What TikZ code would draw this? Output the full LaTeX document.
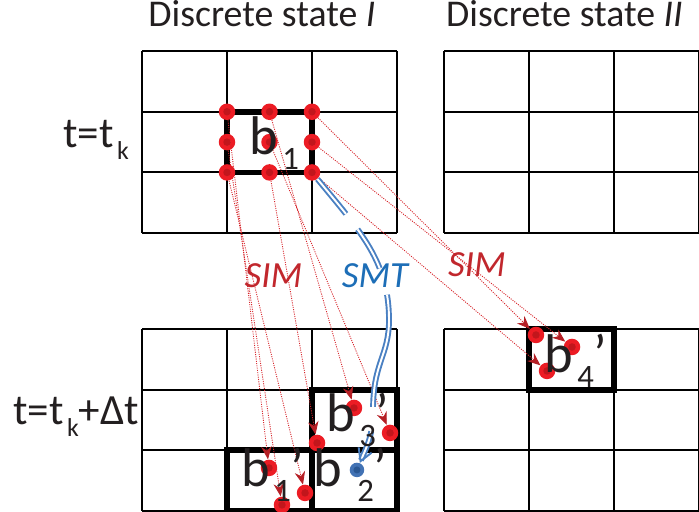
\documentclass[tikz,border=0pt]{standalone}
\usepackage{fontspec}
\setmainfont{Carlito}
\usetikzlibrary{arrows.meta}
\definecolor{simRed}{HTML}{C1272D}
\definecolor{dotRed}{HTML}{EC1C24}
\definecolor{dotCore}{HTML}{C2161C}
\definecolor{traceRed}{HTML}{D7262C}
\definecolor{tipRed}{HTML}{B51F25}
\definecolor{smtBlue}{HTML}{1D6EB7}
\definecolor{traceBlue}{HTML}{4A80C2}
\definecolor{dotBlue}{HTML}{4272B4}
\definecolor{coreBlue}{HTML}{2A5793}
\definecolor{ink}{HTML}{231F20}
\newcommand{\lowidx}[1]{\kern0.08em\raisebox{-0.26em}{\scalebox{0.6}{#1}}}
\tikzset{
  gridline/.style={draw=black, line width=1.1pt},
  cellbox/.style={draw=black, line width=3.3pt},
  head/.style={font=\fontsize{21.5}{25}\selectfont, text=ink, anchor=base, inner sep=0pt},
  timelbl/.style={font=\fontsize{24.5}{29}\selectfont, text=ink, anchor=base west, inner sep=0pt},
  boxlbl/.style={font=\fontsize{31}{36}\selectfont, text=ink, anchor=base west, inner sep=0pt},
  maplbl/.style={font=\itshape\fontsize{21}{25}\selectfont, anchor=base, inner sep=0pt},
  spot/.style={circle, fill=dotRed, minimum size=3.3mm, inner sep=0pt,
              path picture={\fill[dotCore] (path picture bounding box.center) circle (0.75mm);}},
  bspot/.style={circle, fill=dotBlue, minimum size=2.9mm, inner sep=0pt,
               path picture={\fill[coreBlue] (path picture bounding box.center) circle (0.7mm);}},
  sim/.style={-{Stealth[length=2.6mm, width=2.1mm, color=tipRed]}, draw=traceRed,
              line width=0.5pt, dash pattern=on 0.6pt off 0.7pt},
  smt/.style={-{Straight Barb[length=2.4mm, width=2.8mm]}, draw=traceBlue, line width=1.1pt,
              double=white, double distance=1.1pt,
              dash pattern=on 25.6pt off 11pt on 25.6pt off 15.6pt on 65pt off 14pt on 60pt},
}

\begin{document}
\begin{tikzpicture}[x=1.7cm, y=1.2133cm]
\useasboundingbox (-1.6706,-0.0165) rectangle (6.5529,8.4226);

% #1,#2 = lower left corner of a 3x3 grid
\newcommand{\cellgrid}[2]{%
  \draw[gridline, shift={(#1,#2)}, step=1] (0,0) grid (3,3);
}

\cellgrid{0}{4.58}
\cellgrid{3.555}{4.58}
\cellgrid{0}{0}
\cellgrid{3.555}{0}

% --- headings ---
\node[head] (hd1) at (1.41,7.99) {Discrete state \textit{I}};
\node[head, anchor=base west] (hd2) at (3.575,7.99) {Discrete state \textit{II}};
\node[timelbl] (tnow) at (-0.929,5.983) {t=t\lowidx{k}};
\node[timelbl] (tnext) at (-1.518,1.418) {t=t\lowidx{k}+Δt};

% --- thick cell boxes ---
\draw[cellbox] (1,5.58) rectangle (2,6.58);
\draw[cellbox] (2,1) rectangle (3,2);
\draw[cellbox] (1,0) rectangle (2,1);
\draw[cellbox] (2,0) rectangle (3,1);
\draw[cellbox] (4.555,2) rectangle (5.555,3);

% --- points on b1 ---
\node[spot] (s11) at (1,6.58) {};
\node[spot] (s12) at (1.5,6.58) {};
\node[spot] (s13) at (2,6.58) {};
\node[spot] (s21) at (1,6.08) {};
\node[spot] (s22) at (1.5,6.08) {};
\node[spot] (s23) at (2,6.08) {};
\node[spot] (s31) at (1,5.58) {};
\node[spot] (s32) at (1.5,5.58) {};
\node[spot] (s33) at (2,5.58) {};

% --- mapped points ---
\node[spot] (p1a) at (1.494,0.709) {};
\node[spot] (p1b) at (1.647,0.099) {};
\node[spot] (p1c) at (1.918,0.297) {};
\node[spot] (p3a) at (2.494,1.698) {};
\node[spot] (p3b) at (2.059,1.121) {};
\node[spot] (p3c) at (2.918,1.286) {};
\node[spot] (p4a) at (4.635,2.901) {};
\node[spot] (p4b) at (5.059,2.703) {};
\node[spot] (p4c) at (4.765,2.308) {};
\node[bspot] (p2) at (2.529,0.676) {};

% --- SIM traces ---
\draw[sim] (s11) -- (p1a);
\draw[sim] (s21) -- (p1b);
\draw[sim] (s31) -- (p1c);
\draw[sim] (s12) -- (p3a);
\draw[sim] (s22) -- (p3c);
\draw[sim] (s32) -- (p3b);
\draw[sim] (s13) -- (p4a);
\draw[sim] (s23) -- (p4b);
\draw[sim] (s33) -- (p4c);

% --- SMT trace ---
\draw[smt] (s33) .. controls (2.576,4.599) and (2.906,4.104) .. (2.906,3.148)
  .. controls (2.906,2.555) and (2.718,2.456) .. (2.718,1.665)
  .. controls (2.718,1.22) and (2.635,1.038) .. (p2);

% --- labels ---
\node[maplbl, text=simRed] (simL) at (1.547,3.676) {SIM};
\node[maplbl, text=smtBlue] (smtL) at (2.741,3.676) {SMT};
\node[maplbl, text=simRed] (simR) at (3.941,3.857) {SIM};

\node[boxlbl] (b1) at (1.26,5.868) {b\lowidx{1}};
\node[boxlbl] (b3) at (2.165,1.302) {b\lowidx{3}’};
\node[boxlbl] (b1n) at (1.165,0.396) {b\lowidx{1}’};
\node[boxlbl] (b2n) at (2.013,0.396) {b\kern0.2em\lowidx{2}’};
\node[boxlbl] (b4n) at (4.73,2.275) {b\lowidx{4}’};
\end{tikzpicture}
\end{document}
